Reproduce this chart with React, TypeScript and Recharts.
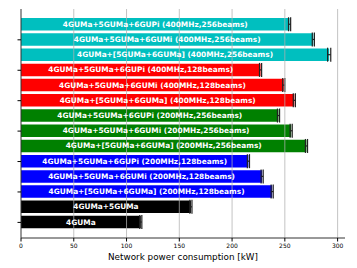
import { BarChart, Bar, XAxis, YAxis, Cell, LabelList, ErrorBar, ReferenceLine } from 'recharts'

const labels = [
  '4GUMa+5GUMa+6GUPi (400MHz,256beams)',
  '4GUMa+5GUMa+6GUMi (400MHz,256beams)',
  '4GUMa+[5GUMa+6GUMa] (400MHz,256beams)',
  '4GUMa+5GUMa+6GUPi (400MHz,128beams)',
  '4GUMa+5GUMa+6GUMi (400MHz,128beams)',
  '4GUMa+[5GUMa+6GUMa] (400MHz,128beams)',
  '4GUMa+5GUMa+6GUPi (200MHz,256beams)',
  '4GUMa+5GUMa+6GUMi (200MHz,256beams)',
  '4GUMa+[5GUMa+6GUMa] (200MHz,256beams)',
  '4GUMa+5GUMa+6GUPi (200MHz,128beams)',
  '4GUMa+5GUMa+6GUMi (200MHz,128beams)',
  '4GUMa+[5GUMa+6GUMa] (200MHz,128beams)',
  '4GUMa+5GUMa',
  '4GUMa',
]
const power = [254.5, 277, 292, 227, 249, 259, 244, 256, 270.5, 215.5, 228.5, 238, 161, 113.5]
const errors = [1, 1, 1.5, 1, 1, 1, 1, 1, 1, 1, 1, 1, 1, 1]
const barColors = [
  '#00bfbf', '#00bfbf', '#00bfbf',
  '#ff0000', '#ff0000', '#ff0000',
  '#008000', '#008000', '#008000',
  '#0000ff', '#0000ff', '#0000ff',
  '#000000', '#000000',
]
const xTicks = [0, 50, 100, 150, 200, 250, 300]

const data = labels.map((name, i) => ({ name, power: power[i], err: errors[i] }))

const font = 'DejaVu Sans, sans-serif'

// plain centred label, no wrapping
const BarText = (props: any) => {
  const { x, y, width, height, value } = props
  return (
    <text
      x={x + width / 2}
      y={y + height / 2}
      textAnchor="middle"
      dominantBaseline="central"
      fill="#fff"
      fontSize={7.4}
      fontWeight="bold"
      fontFamily={font}
    >
      {value}
    </text>
  )
}

export default function App() {
  return (
    <div style={{ position: 'absolute', left: 0, top: 0, fontFamily: font }}>
      <BarChart
        width={357}
        height={268}
        data={data}
        layout="vertical"
        margin={{ top: 9, right: 12, left: 0, bottom: 0 }}
      >
        <XAxis
          type="number"
          domain={[0, 307]}
          ticks={xTicks}
          allowDataOverflow
          height={30}
          tickSize={3.5}
          tickLine={{ stroke: '#000' }}
          axisLine={{ stroke: '#333' }}
          tick={{ fontSize: 6, fill: '#000', fontFamily: font }}
          label={{ value: 'Network power consumption [kW]', position: 'insideBottom', offset: 8, fontSize: 8.8, fill: '#000', fontFamily: font }}
        />
        <XAxis xAxisId="top" orientation="top" type="number" domain={[0, 307]} height={0} tick={false} tickLine={false} axisLine={{ stroke: '#333' }} />
        <YAxis
          type="category"
          dataKey="name"
          width={21}
          tickSize={3.5}
          padding={{ top: 8, bottom: 8 }}
          tickLine={{ stroke: '#000' }}
          axisLine={{ stroke: '#333' }}
          tick={() => <g />}
        />
        <YAxis yAxisId="right" orientation="right" type="number" width={0} tick={false} tickLine={false} axisLine={{ stroke: '#333' }} />
        <Bar dataKey="power" barSize={12.5} isAnimationActive={false}>
          {data.map((d, i) => (
            <Cell key={d.name} fill={barColors[i]} />
          ))}
          <ErrorBar dataKey="err" direction="x" width={7} stroke="#222" strokeWidth={1.2} />
          <LabelList dataKey="name" content={BarText} />
        </Bar>
        {xTicks.slice(1).map((t) => (
          <ReferenceLine key={t} x={t} stroke="#b0b0b0" strokeOpacity={0.75} />
        ))}
      </BarChart>
    </div>
  )
}
